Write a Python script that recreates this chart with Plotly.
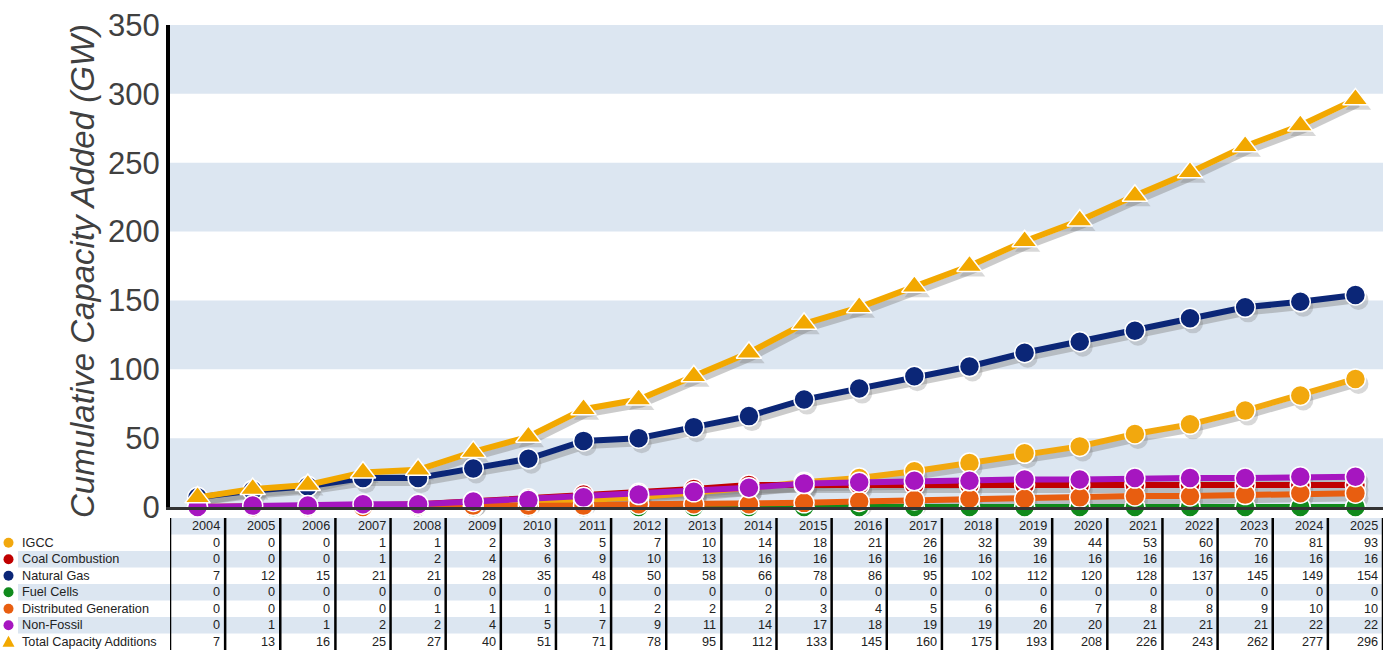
import plotly.graph_objects as go

# ---------------- data ----------------
years = list(range(2004, 2026))
series_names = ["IGCC", "Coal Combustion", "Natural Gas", "Fuel Cells",
                "Distributed Generation", "Non-Fossil", "Total Capacity Additions"]
igcc = [0, 0, 0, 1, 1, 2, 3, 5, 7, 10, 14, 18, 21, 26, 32, 39, 44, 53, 60, 70, 81, 93]
coal = [0, 0, 0, 1, 2, 4, 6, 9, 10, 13, 16, 16, 16, 16, 16, 16, 16, 16, 16, 16, 16, 16]
natural_gas = [7, 12, 15, 21, 21, 28, 35, 48, 50, 58, 66, 78, 86, 95, 102, 112, 120, 128, 137, 145, 149, 154]
fuel_cells = [0, 0, 0, 0, 0, 0, 0, 0, 0, 0, 0, 0, 0, 0, 0, 0, 0, 0, 0, 0, 0, 0]
dist_gen = [0, 0, 0, 0, 1, 1, 1, 1, 2, 2, 2, 3, 4, 5, 6, 6, 7, 8, 8, 9, 10, 10]
non_fossil = [0, 1, 1, 2, 2, 4, 5, 7, 9, 11, 14, 17, 18, 19, 19, 20, 20, 21, 21, 21, 22, 22]
total = [7, 13, 16, 25, 27, 40, 51, 71, 78, 95, 112, 133, 145, 160, 175, 193, 208, 226, 243, 262, 277, 296]
y_ticks = [0, 50, 100, 150, 200, 250, 300, 350]

series_values = [igcc, coal, natural_gas, fuel_cells, dist_gen, non_fossil, total]
colors = ["#F2A80E", "#C00000", "#0B2677", "#108A1C", "#E85E10", "#A616C0", "#F2A800"]
symbols = ["circle"] * 6 + ["triangle-up"]

# ---------------- layout geometry ----------------
W, H = 1390, 650
L, R, T, B = 170, 7, 25, 143
PW, PH = W - L - R, H - T - B
X0, X1 = years[0] - 0.5, years[-1] + 0.5
Y0, Y1 = 0, 350
px_per_x = PW / (X1 - X0)
px_per_y = PH / (Y1 - Y0)
SDX, SDY = 3, 5  # shadow offset in px


def paper_x(px):
    return (px - L) / PW


def paper_y(py):
    return (H - B - py) / PH


BAND = "#DCE6F1"
TXT = "#222222"
FONT = "Liberation Sans, Arial, sans-serif"

fig = go.Figure()

# shadows (on shifted hidden axes, drawn below)
for vals, sym in zip(series_values, symbols):
    fig.add_trace(go.Scatter(
        x=years, y=vals, mode="lines+markers", xaxis="x", yaxis="y",
        line=dict(color="rgba(125,125,125,0.40)", width=6),
        marker=dict(symbol=sym, size=20 if sym == "circle" else 22,
                    color="rgba(125,125,125,0.30)", line=dict(width=0)),
        cliponaxis=False, showlegend=False, hoverinfo="skip"))

# main series
for name, vals, col, sym in zip(series_names, series_values, colors, symbols):
    fig.add_trace(go.Scatter(
        x=years, y=vals, name=name, mode="lines+markers", xaxis="x2", yaxis="y2",
        line=dict(color=col, width=6),
        marker=dict(symbol=sym, size=20 if sym == "circle" else 22, color=col,
                    line=dict(color="white", width=1.5)),
        cliponaxis=False, showlegend=False))

shapes = []
# horizontal bands
for i in range(0, len(y_ticks) - 1, 2):
    shapes.append(dict(type="rect", xref="paper", yref="paper", x0=0, x1=1,
                       y0=(y_ticks[i] - Y0) / (Y1 - Y0), y1=(y_ticks[i + 1] - Y0) / (Y1 - Y0),
                       fillcolor=BAND, line=dict(width=0), layer="below"))

# table geometry
tbl_top = 518
rh = (H - tbl_top) / 8.0


def row_center_px(i):
    return tbl_top + rh * (i + 0.5)


def row_center(i):
    return paper_y(row_center_px(i))


# header shading
shapes.append(dict(type="rect", xref="paper", yref="paper", x0=0, x1=1,
                   y0=paper_y(tbl_top + rh), y1=paper_y(tbl_top),
                   fillcolor=BAND, line=dict(width=0), layer="below"))
# alternating row shading (Coal, Fuel Cells, Non-Fossil)
for r in [2, 4, 6]:
    shapes.append(dict(type="rect", xref="paper", yref="paper", x0=paper_x(18), x1=1,
                       y0=paper_y(tbl_top + rh * (r + 1)), y1=paper_y(tbl_top + rh * r),
                       fillcolor=BAND, line=dict(width=0), layer="below"))
# vertical column separators
for b in [years[0] - 0.5] + [yv + 0.5 for yv in years]:
    shapes.append(dict(type="line", xref="x2", yref="paper", x0=b, x1=b,
                       y0=paper_y(tbl_top), y1=paper_y(H + 2),
                       line=dict(color="black", width=2.5)))

# legend keys in the table (shapes)
KX, KR = 8.5, 5
for r, (col, sym) in enumerate(zip(colors, symbols), start=1):
    cy = row_center_px(r)
    if sym == "circle":
        shapes.append(dict(type="circle", xref="paper", yref="paper",
                           x0=paper_x(KX - KR), x1=paper_x(KX + KR),
                           y0=paper_y(cy + KR), y1=paper_y(cy - KR),
                           fillcolor=col, line=dict(width=0)))
    else:
        shapes.append(dict(type="path", xref="paper", yref="paper",
                           path="M {} {} L {} {} L {} {} Z".format(
                               paper_x(KX - 6), paper_y(cy + 5),
                               paper_x(KX + 6), paper_y(cy + 5),
                               paper_x(KX), paper_y(cy - 6)),
                           fillcolor=col, line=dict(width=0)))

annotations = []
# y-axis title
annotations.append(dict(text="<i>Cumulative Capacity Added (GW)</i>", textangle=-90,
                        xref="paper", yref="paper", x=paper_x(82), y=0.5, yshift=-5,
                        xanchor="center", yanchor="middle", showarrow=False,
                        font=dict(size=33, color="#404040", family=FONT)))
# header years
for yv in years:
    annotations.append(dict(text=str(yv), xref="x2", yref="paper", x=yv + 0.5, y=row_center(0),
                            xanchor="right", yanchor="middle", xshift=-3, showarrow=False,
                            font=dict(size=12.7, color=TXT)))
# rows
for r, (name, vals) in enumerate(zip(series_names, series_values), start=1):
    annotations.append(dict(text=name, xref="paper", yref="paper", x=paper_x(20), y=row_center(r),
                            xanchor="left", yanchor="middle", showarrow=False,
                            font=dict(size=12.7, color=TXT)))
    for yv, v in zip(years, vals):
        annotations.append(dict(text=str(v), xref="x2", yref="paper", x=yv + 0.5, y=row_center(r),
                                xanchor="right", yanchor="middle", xshift=-3, showarrow=False,
                                font=dict(size=12.7, color=TXT)))

fig.update_layout(
    width=W, height=H,
    margin=dict(l=L, r=R, t=T, b=B),
    paper_bgcolor="white", plot_bgcolor="white",
    font=dict(family=FONT, color=TXT),
    xaxis=dict(range=[X0 - SDX / px_per_x, X1 - SDX / px_per_x], visible=False, fixedrange=True),
    yaxis=dict(range=[Y0 + SDY / px_per_y, Y1 + SDY / px_per_y], visible=False, fixedrange=True),
    xaxis2=dict(range=[X0, X1], overlaying="x", anchor="y2", side="bottom",
                showline=True, linecolor="#333333", linewidth=3, showticklabels=False,
                showgrid=False, zeroline=False, ticks=""),
    yaxis2=dict(range=[Y0, Y1], overlaying="y", anchor="x2", side="left",
                tickvals=y_ticks, ticks="",
                tickfont=dict(size=31, color="#404040"),
                showline=True, linecolor="black", linewidth=4,
                showgrid=False, zeroline=False),
    shapes=shapes, annotations=annotations,
)

fig.write_html("out.html", config={"displayModeBar": False},
               post_script="document.body.style.margin='0';document.body.style.overflow='hidden';")
